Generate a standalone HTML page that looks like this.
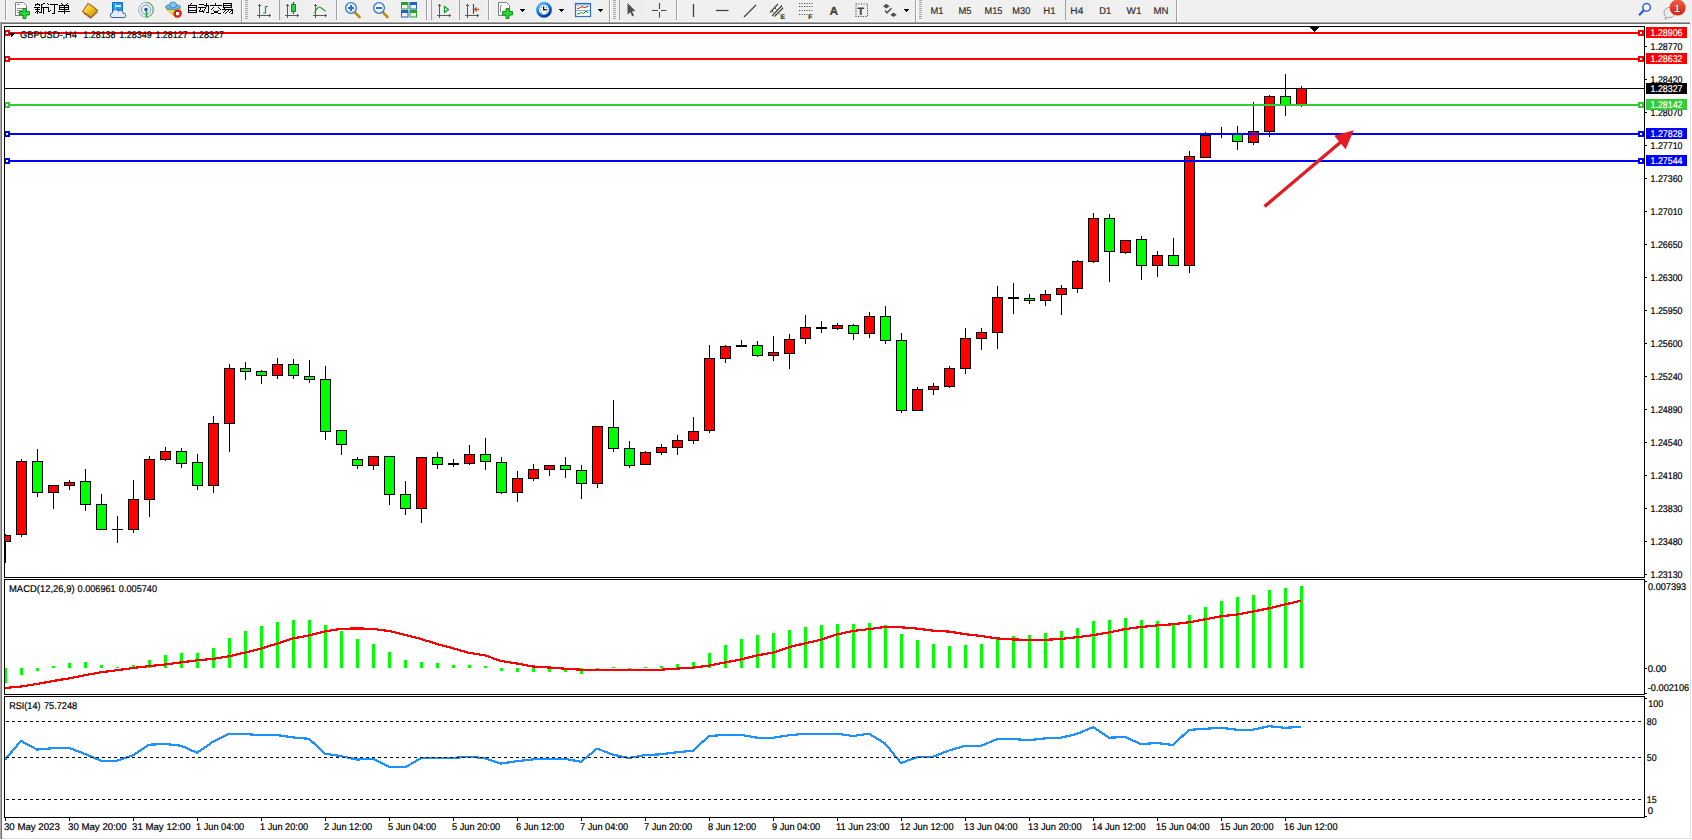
<!DOCTYPE html><html><head><meta charset="utf-8"><title>MT4 GBPUSD H4</title><style>html,body{margin:0;padding:0;background:#fff;width:1692px;height:840px;overflow:hidden;}text{font-family:"Liberation Sans",sans-serif;stroke:currentColor;stroke-width:0.2px;text-rendering:geometricPrecision;}</style></head><body><svg width="1692" height="840" viewBox="0 0 1692 840" shape-rendering="crispEdges" style="display:block"><rect x="0" y="0" width="1692" height="840" fill="#ffffff"/><defs><pattern id="chk" width="2" height="2" patternUnits="userSpaceOnUse"><rect width="2" height="2" fill="#f6f6f6"/><rect width="1" height="1" fill="#e6e6e6"/><rect x="1" y="1" width="1" height="1" fill="#e6e6e6"/></pattern><radialGradient id="gBlueFace" cx="0.5" cy="0.4" r="0.6"><stop offset="0" stop-color="#ffffff"/><stop offset="1" stop-color="#cfe4f7"/></radialGradient><linearGradient id="gGold" x1="0" y1="0" x2="1" y2="1"><stop offset="0" stop-color="#fff0a0"/><stop offset="0.5" stop-color="#f0c020"/><stop offset="1" stop-color="#c08010"/></linearGradient><linearGradient id="gClock" x1="0.2" y1="0" x2="0.8" y2="1"><stop offset="0" stop-color="#5ab8ff"/><stop offset="0.5" stop-color="#1070e0"/><stop offset="1" stop-color="#003c98"/></linearGradient><linearGradient id="gRed" x1="0" y1="0" x2="0" y2="1"><stop offset="0" stop-color="#ef6040"/><stop offset="1" stop-color="#d81e10"/></linearGradient></defs><rect x="0" y="0" width="1692" height="21" fill="#f0f0f0"/><rect x="0" y="21" width="1692" height="1" fill="#f8f8f8"/><g shape-rendering="geometricPrecision"><rect x="5" y="0" width="1" height="20" fill="#a0a0a0"/><rect x="6" y="0" width="1" height="20" fill="#ffffff"/><path d="M15.5 2.5 h8 l3 3 v10 h-11 z" fill="#fff" stroke="#808080" stroke-width="1"/><path d="M17 4.5 h3 M17 8.5 h6 M17 10.5 h5 M17 12.5 h3" stroke="#909090" stroke-width="1"/><path d="M23 8.5 h3 v3 h3.5 v3.5 h-3.5 v3.5 h-3 v-3.5 h-3.5 v-3.5 h3.5 z" fill="#22dd33" stroke="#129018" stroke-width="1"/><g fill="#000" shape-rendering="crispEdges"><rect x="37" y="3" width="1" height="1"/><rect x="35" y="4" width="5" height="1"/><rect x="35" y="5" width="1" height="1"/><rect x="39" y="5" width="1" height="1"/><rect x="34" y="7" width="6" height="1"/><rect x="35" y="9" width="5" height="1"/><rect x="37" y="7" width="1" height="7"/><rect x="36" y="11" width="1" height="1"/><rect x="35" y="12" width="1" height="1"/><rect x="38" y="11" width="1" height="1"/><rect x="39" y="12" width="1" height="1"/><rect x="43" y="3" width="2" height="1"/><rect x="42" y="4" width="1" height="1"/><rect x="41" y="4" width="1" height="9"/><rect x="40" y="12" width="1" height="1"/><rect x="41" y="7" width="5" height="1"/><rect x="43" y="7" width="1" height="7"/><rect x="47" y="3" width="1" height="1"/><rect x="48" y="4" width="1" height="1"/><rect x="46" y="7" width="3" height="1"/><rect x="48" y="7" width="1" height="5"/><rect x="49" y="11" width="1" height="1"/><rect x="50" y="10" width="1" height="1"/><rect x="50" y="4" width="8" height="1"/><rect x="54" y="4" width="1" height="10"/><rect x="52" y="13" width="2" height="1"/><rect x="61" y="3" width="1" height="1"/><rect x="62" y="4" width="1" height="1"/><rect x="67" y="3" width="1" height="1"/><rect x="66" y="4" width="1" height="1"/><rect x="59" y="5" width="10" height="1"/><rect x="59" y="7" width="10" height="1"/><rect x="59" y="9" width="10" height="1"/><rect x="59" y="5" width="1" height="5"/><rect x="68" y="5" width="1" height="5"/><rect x="64" y="5" width="1" height="9"/><rect x="58" y="11" width="12" height="1"/></g><path d="M88 3.5 Q93 6 97.5 10.5 L91 17.5 Q87 14 82.5 11.5 Z" fill="url(#gGold)" stroke="#a86a18" stroke-width="1.1"/><path d="M83.5 13 L90.5 18.2 L97.8 12" stroke="#8a5010" stroke-width="1" fill="none"/><path d="M112.5 2.5 h10 v9.5 h-10 z" fill="#1a9af0" stroke="#1070c8" stroke-width="1"/><path d="M115.5 3 v8.5" stroke="#c8ecff" stroke-width="0.8"/><path d="M116 5 h5 v2 h-5z" fill="#d8efff"/><path d="M112 17.5 a2.3 2.3 0 0 1 0.3 -4.5 a3.2 3.2 0 0 1 6 -1.8 a2.8 2.8 0 0 1 4.8 2.2 a2 2 0 0 1 1.2 4.1 z" fill="#e4ecf8" stroke="#40609a" stroke-width="1"/><circle cx="146" cy="9.7" r="7.3" fill="none" stroke="#8fb0e0" stroke-width="1"/><circle cx="146" cy="9.7" r="4.6" fill="none" stroke="#6f98d8" stroke-width="1"/><path d="M146 2.4 A7.3 7.3 0 0 1 146 17" fill="none" stroke="#70b870" stroke-width="1.2"/><circle cx="146" cy="9.5" r="1.8" fill="#2050c0"/><path d="M146.5 10 V17.5" stroke="#20a020" stroke-width="1.5"/><path d="M166 9 L176 17.5 L181 12 L180 8 Z" fill="#f0dc50" stroke="#c0a030" stroke-width="0.8"/><ellipse cx="173" cy="7" rx="7.5" ry="2.6" fill="#70b8e0" stroke="#3080b0" stroke-width="0.8"/><ellipse cx="173" cy="5" rx="3.5" ry="3" fill="#80c8f0" stroke="#3080b0" stroke-width="0.8"/><circle cx="177.6" cy="13.6" r="4.2" fill="#d82010"/><rect x="176" y="12" width="3.2" height="3.2" fill="#fff"/><g fill="#000" shape-rendering="crispEdges"><rect x="191" y="3" width="1" height="1"/><rect x="190" y="4" width="1" height="1"/><rect x="188" y="5" width="9" height="1"/><rect x="188" y="7" width="9" height="1"/><rect x="188" y="10" width="9" height="1"/><rect x="188" y="12" width="9" height="1"/><rect x="188" y="5" width="1" height="8"/><rect x="196" y="5" width="1" height="8"/><rect x="199" y="4" width="5" height="1"/><rect x="198" y="7" width="7" height="1"/><rect x="200" y="8" width="1" height="1"/><rect x="200" y="9" width="1" height="1"/><rect x="199" y="10" width="1" height="1"/><rect x="199" y="11" width="4" height="1"/><rect x="202" y="10" width="1" height="1"/><rect x="203" y="11" width="1" height="1"/><rect x="203" y="12" width="1" height="1"/><rect x="204" y="5" width="5" height="1"/><rect x="206" y="3" width="1" height="4"/><rect x="205" y="7" width="1" height="1"/><rect x="205" y="8" width="1" height="1"/><rect x="204" y="9" width="1" height="1"/><rect x="204" y="10" width="1" height="1"/><rect x="203" y="12" width="1" height="1"/><rect x="208" y="5" width="1" height="8"/><rect x="206" y="12" width="2" height="1"/><rect x="215" y="3" width="1" height="1"/><rect x="215" y="4" width="1" height="1"/><rect x="210" y="5" width="12" height="1"/><rect x="213" y="7" width="1" height="1"/><rect x="212" y="8" width="1" height="1"/><rect x="211" y="9" width="1" height="1"/><rect x="218" y="7" width="1" height="1"/><rect x="219" y="8" width="1" height="1"/><rect x="220" y="9" width="1" height="1"/><rect x="213" y="10" width="1" height="1"/><rect x="214" y="11" width="2" height="1"/><rect x="216" y="12" width="2" height="1"/><rect x="218" y="13" width="3" height="1"/><rect x="218" y="10" width="1" height="1"/><rect x="216" y="11" width="2" height="1"/><rect x="214" y="12" width="2" height="1"/><rect x="211" y="13" width="3" height="1"/><rect x="223" y="3" width="9" height="1"/><rect x="223" y="5" width="9" height="1"/><rect x="223" y="7" width="9" height="1"/><rect x="223" y="3" width="1" height="5"/><rect x="231" y="3" width="1" height="5"/><rect x="224" y="8" width="1" height="1"/><rect x="222" y="9" width="11" height="1"/><rect x="232" y="9" width="1" height="4"/><rect x="231" y="13" width="2" height="1"/><rect x="225" y="10" width="1" height="1"/><rect x="224" y="11" width="1" height="1"/><rect x="223" y="12" width="1" height="1"/><rect x="228" y="10" width="1" height="1"/><rect x="227" y="11" width="1" height="1"/><rect x="226" y="12" width="1" height="1"/><rect x="225" y="13" width="1" height="1"/><rect x="231" y="10" width="1" height="1"/><rect x="230" y="11" width="1" height="1"/><rect x="229" y="12" width="1" height="1"/></g></g><rect x="241" y="0" width="1" height="22" fill="#a0a0a0"/><rect x="242" y="0" width="1" height="22" fill="#ffffff"/><rect x="245" y="0" width="3" height="1" fill="#a8a8a8"/><rect x="245" y="2" width="3" height="1" fill="#a8a8a8"/><rect x="245" y="4" width="3" height="1" fill="#a8a8a8"/><rect x="245" y="6" width="3" height="1" fill="#a8a8a8"/><rect x="245" y="8" width="3" height="1" fill="#a8a8a8"/><rect x="245" y="10" width="3" height="1" fill="#a8a8a8"/><rect x="245" y="12" width="3" height="1" fill="#a8a8a8"/><rect x="245" y="14" width="3" height="1" fill="#a8a8a8"/><rect x="245" y="16" width="3" height="1" fill="#a8a8a8"/><rect x="245" y="18" width="3" height="1" fill="#a8a8a8"/><g shape-rendering="geometricPrecision"><g fill="#5a5a5a" shape-rendering="crispEdges"><rect x="259" y="4" width="1" height="14"/><rect x="257" y="15" width="14" height="1"/><rect x="258" y="5" width="3" height="1"/><rect x="269" y="14" width="1" height="3"/></g><path d="M265.5 6 V13.5 M263 13 h2.5 M265.5 6.5 h2.5" stroke="#10a030" stroke-width="1.2" fill="none"/></g><rect x="279" y="0" width="1" height="20" fill="#a0a0a0"/><rect x="280" y="0" width="24" height="20" fill="url(#chk)"/><g shape-rendering="geometricPrecision"><g fill="#5a5a5a" shape-rendering="crispEdges"><rect x="287" y="4" width="1" height="14"/><rect x="285" y="15" width="14" height="1"/><rect x="286" y="5" width="3" height="1"/><rect x="297" y="14" width="1" height="3"/></g><path d="M293.5 2 V14" stroke="#107020" stroke-width="1.2"/><rect x="291.5" y="4.5" width="4" height="7" fill="#30d040" stroke="#108020" stroke-width="0.9"/><g fill="#5a5a5a" shape-rendering="crispEdges"><rect x="315" y="4" width="1" height="14"/><rect x="313" y="15" width="14" height="1"/><rect x="314" y="5" width="3" height="1"/><rect x="325" y="14" width="1" height="3"/></g><path d="M314.5 12.8 Q318 6 320 7.2 T325.6 11.2" stroke="#20a030" stroke-width="1.2" fill="none"/></g><rect x="336" y="0" width="1" height="20" fill="#a0a0a0"/><rect x="337" y="0" width="1" height="20" fill="#ffffff"/><g shape-rendering="geometricPrecision"><path d="M354.5 12 L359.5 17" stroke="#b89020" stroke-width="2.6" stroke-linecap="round"/><circle cx="351" cy="8" r="5.4" fill="url(#gBlueFace)" stroke="#3a78c8" stroke-width="1.3"/><path d="M348 8 h6 M351 5 v6" stroke="#3a70b8" stroke-width="2"/><path d="M382.5 12 L387.5 17" stroke="#b89020" stroke-width="2.6" stroke-linecap="round"/><circle cx="379" cy="8" r="5.4" fill="url(#gBlueFace)" stroke="#3a78c8" stroke-width="1.3"/><path d="M376 8 h6" stroke="#3a70b8" stroke-width="2"/><rect x="401" y="2" width="7.5" height="7.5" fill="#2aa02a"/><rect x="402" y="5" width="5.5" height="3.5" fill="#e8f4e8"/><rect x="409.5" y="2" width="7.5" height="7.5" fill="#1f5fcf"/><rect x="410.5" y="5" width="5.5" height="3.5" fill="#e8f4e8"/><rect x="401" y="10" width="7.5" height="7.5" fill="#1f5fcf"/><rect x="402" y="13" width="5.5" height="3.5" fill="#e8f4e8"/><rect x="409.5" y="10" width="7.5" height="7.5" fill="#2aa02a"/><rect x="410.5" y="13" width="5.5" height="3.5" fill="#e8f4e8"/></g><rect x="426" y="0" width="1" height="20" fill="#a0a0a0"/><rect x="427" y="0" width="1" height="20" fill="#ffffff"/><rect x="431" y="0" width="1" height="20" fill="#a0a0a0"/><rect x="432" y="0" width="1" height="20" fill="#ffffff"/><rect x="432" y="0" width="24" height="20" fill="url(#chk)"/><g shape-rendering="geometricPrecision"><g fill="#5a5a5a" shape-rendering="crispEdges"><rect x="439" y="4" width="1" height="14"/><rect x="437" y="15" width="14" height="1"/><rect x="438" y="5" width="3" height="1"/><rect x="449" y="14" width="1" height="3"/></g><path d="M444.5 6.5 L448.5 9.5 L444.5 12.5 Z" fill="none" stroke="#10a030" stroke-width="1.2"/></g><rect x="459" y="0" width="1" height="20" fill="#a0a0a0"/><rect x="460" y="0" width="1" height="20" fill="#ffffff"/><rect x="460" y="0" width="24" height="20" fill="url(#chk)"/><g shape-rendering="geometricPrecision"><g fill="#5a5a5a" shape-rendering="crispEdges"><rect x="467" y="4" width="1" height="14"/><rect x="465" y="15" width="14" height="1"/><rect x="466" y="5" width="3" height="1"/><rect x="477" y="14" width="1" height="3"/></g><path d="M473.5 4 V14" stroke="#1060a0" stroke-width="1.2"/><path d="M479 9.5 h-4 M476.5 7.5 l-2 2 l2 2" stroke="#e05010" stroke-width="1.3" fill="none"/></g><rect x="488" y="0" width="1" height="20" fill="#a0a0a0"/><rect x="489" y="0" width="1" height="20" fill="#ffffff"/><g shape-rendering="geometricPrecision"><path d="M498.5 2.5 h8 l3 3 v10 h-11 z" fill="#fff" stroke="#808080" stroke-width="1"/><path d="M502 5 q-1.5 0 -1.5 3 v4" stroke="#606060" stroke-width="0.8" fill="none"/><path d="M506 8.5 h3 v3 h3.5 v3.5 h-3.5 v3.5 h-3 v-3.5 h-3.5 v-3.5 h3.5 z" fill="#22dd33" stroke="#129018" stroke-width="1"/></g><polygon points="520,9 525,9 522.5,12" fill="#000"/><g shape-rendering="geometricPrecision"><circle cx="544" cy="9.8" r="6.5" fill="#f4f4f4" stroke="url(#gClock)" stroke-width="2.9"/><g fill="#707070"><rect x="540" y="9.5" width="0.9" height="0.9"/><rect x="547.2" y="9.5" width="0.9" height="0.9"/><rect x="541" y="12.3" width="0.9" height="0.9"/><rect x="546" y="12.3" width="0.9" height="0.9"/><rect x="541" y="7" width="0.9" height="0.9"/><rect x="546" y="7" width="0.9" height="0.9"/></g><path d="M543.6 6.2 V9.9 L546.9 9.7" stroke="#1a1a1a" stroke-width="1.3" fill="none"/></g><polygon points="559,9 564,9 561.5,12" fill="#000"/><g shape-rendering="geometricPrecision"><rect x="575.5" y="3.5" width="15" height="13" fill="#fff" stroke="#2f6fc0" stroke-width="1.2"/><rect x="576" y="4" width="14" height="1.5" fill="#8fb8e8"/><path d="M576 10.5 h14" stroke="#6090c8" stroke-width="0.8"/><path d="M577 8.5 l2.5 -0.5 l2.5 -1.5 l2 1 l2.5 -0.5 l2 -1" stroke="#b02010" stroke-width="1" fill="none"/><path d="M577 14 l2.5 -0.5 l2 -1 l2 1 l2.5 -2.5 l2 2" stroke="#10a020" stroke-width="1" fill="none"/></g><polygon points="598,9 603,9 600.5,12" fill="#000"/><rect x="609" y="0" width="1" height="22" fill="#a0a0a0"/><rect x="610" y="0" width="1" height="22" fill="#ffffff"/><rect x="613" y="0" width="3" height="1" fill="#a8a8a8"/><rect x="613" y="2" width="3" height="1" fill="#a8a8a8"/><rect x="613" y="4" width="3" height="1" fill="#a8a8a8"/><rect x="613" y="6" width="3" height="1" fill="#a8a8a8"/><rect x="613" y="8" width="3" height="1" fill="#a8a8a8"/><rect x="613" y="10" width="3" height="1" fill="#a8a8a8"/><rect x="613" y="12" width="3" height="1" fill="#a8a8a8"/><rect x="613" y="14" width="3" height="1" fill="#a8a8a8"/><rect x="613" y="16" width="3" height="1" fill="#a8a8a8"/><rect x="613" y="18" width="3" height="1" fill="#a8a8a8"/><rect x="619" y="0" width="1" height="20" fill="#a0a0a0"/><rect x="620" y="0" width="24" height="20" fill="url(#chk)"/><g shape-rendering="geometricPrecision"><path d="M627.5 3 L635.5 11 L632 11.2 L634 15.5 L632.3 16.5 L630.3 12.3 L627.5 14.5 Z" fill="#505050"/><path d="M652 10.5 h6 M661 10.5 h5.5 M659.5 3 v6 M659.5 12 v5.5" stroke="#484848" stroke-width="1.1"/></g><rect x="676" y="0" width="1" height="20" fill="#a0a0a0"/><rect x="677" y="0" width="1" height="20" fill="#ffffff"/><g shape-rendering="geometricPrecision" stroke="#404040" fill="none"><path d="M693.5 4 V17" stroke-width="1.3"/><path d="M716 10.5 H728.5" stroke-width="1.3"/><path d="M744 17 L756 5" stroke-width="1.2"/><path d="M770 12.5 L778 4 M772 16 L782 5.5 M774.5 16.5 L783 8" stroke-width="1.1"/><path d="M772 11 l1.5 1.5 M775 8 l1.5 1.5 M778 12 l1.5 1.5 M781 6 l1.5 1.5" stroke-width="1"/></g><text x="780.5" y="18.8" font-family='"Liberation Sans", sans-serif' font-size="6.5" font-weight="bold" fill="#404040">E</text><g stroke="#505050" stroke-width="1.2" stroke-dasharray="1.2,1.3" fill="none" shape-rendering="geometricPrecision"><path d="M799 3.5 H812.5"/><path d="M799 6.5 H812.5"/><path d="M799 10.5 H812.5"/><path d="M799 14.5 H807.5"/></g><text x="808.3" y="18.8" font-family='"Liberation Sans", sans-serif' font-size="6.5" font-weight="bold" fill="#404040">F</text><text x="829.5" y="15" font-family='"Liberation Sans", sans-serif' font-size="12" font-weight="bold" fill="#505050">A</text><rect x="856" y="4" width="11.5" height="12.5" fill="none" stroke="#505050" stroke-width="1.1" stroke-dasharray="1.2,1.3" shape-rendering="geometricPrecision"/><text x="857.6" y="15" font-family='"Liberation Sans", sans-serif' font-size="10.5" font-weight="bold" fill="#505050">T</text><g shape-rendering="geometricPrecision"><polygon points="886.3,3.7 889.7,6.2 886.3,8.5 883,6.2" fill="#505050"/><path d="M885 10.5 L887 12.8 L891.5 8.3" stroke="#505050" stroke-width="1.5" fill="none"/><polygon points="893.5,12.4 896.8,14.7 893.5,17 890.3,14.7" fill="#505050"/></g><polygon points="904,9 909,9 906.5,12" fill="#000"/><rect x="915" y="0" width="1" height="22" fill="#a0a0a0"/><rect x="916" y="0" width="1" height="22" fill="#ffffff"/><rect x="919" y="0" width="3" height="1" fill="#a8a8a8"/><rect x="919" y="2" width="3" height="1" fill="#a8a8a8"/><rect x="919" y="4" width="3" height="1" fill="#a8a8a8"/><rect x="919" y="6" width="3" height="1" fill="#a8a8a8"/><rect x="919" y="8" width="3" height="1" fill="#a8a8a8"/><rect x="919" y="10" width="3" height="1" fill="#a8a8a8"/><rect x="919" y="12" width="3" height="1" fill="#a8a8a8"/><rect x="919" y="14" width="3" height="1" fill="#a8a8a8"/><rect x="919" y="16" width="3" height="1" fill="#a8a8a8"/><rect x="919" y="18" width="3" height="1" fill="#a8a8a8"/><rect x="1065" y="0" width="1" height="20" fill="#a0a0a0"/><rect x="1066" y="0" width="24" height="20" fill="url(#chk)"/><text x="930.5" y="14" font-family='"Liberation Sans", sans-serif' font-size="9.8" fill="#303030" color="#303030" textLength="13" lengthAdjust="spacingAndGlyphs">M1</text><text x="958.5" y="14" font-family='"Liberation Sans", sans-serif' font-size="9.8" fill="#303030" color="#303030" textLength="13" lengthAdjust="spacingAndGlyphs">M5</text><text x="984.5" y="14" font-family='"Liberation Sans", sans-serif' font-size="9.8" fill="#303030" color="#303030" textLength="18" lengthAdjust="spacingAndGlyphs">M15</text><text x="1012.3" y="14" font-family='"Liberation Sans", sans-serif' font-size="9.8" fill="#303030" color="#303030" textLength="18" lengthAdjust="spacingAndGlyphs">M30</text><text x="1043.3" y="14" font-family='"Liberation Sans", sans-serif' font-size="9.8" fill="#303030" color="#303030" textLength="12.3" lengthAdjust="spacingAndGlyphs">H1</text><text x="1070.3" y="14" font-family='"Liberation Sans", sans-serif' font-size="9.8" fill="#303030" color="#303030" textLength="13" lengthAdjust="spacingAndGlyphs">H4</text><text x="1099.3" y="14" font-family='"Liberation Sans", sans-serif' font-size="9.8" fill="#303030" color="#303030" textLength="12" lengthAdjust="spacingAndGlyphs">D1</text><text x="1126.5" y="14" font-family='"Liberation Sans", sans-serif' font-size="9.8" fill="#303030" color="#303030" textLength="15" lengthAdjust="spacingAndGlyphs">W1</text><text x="1153.5" y="14" font-family='"Liberation Sans", sans-serif' font-size="9.8" fill="#303030" color="#303030" textLength="15" lengthAdjust="spacingAndGlyphs">MN</text><rect x="1176" y="0" width="1" height="22" fill="#a0a0a0"/><rect x="1177" y="0" width="1" height="22" fill="#ffffff"/><g shape-rendering="geometricPrecision"><circle cx="1646.6" cy="7.4" r="3.8" fill="#fafaff" stroke="#2a60d0" stroke-width="1.5"/><path d="M1643.5 10.5 L1639.8 14.5" stroke="#2a60d0" stroke-width="2.4" stroke-linecap="round"/><path d="M1664 12.5 a5.5 5 0 1 1 4 4.8 l-3 2 l0.8 -2.6 a5.5 5 0 0 1 -1.8 -4.2z" fill="#ececf4" stroke="#a0a0a0" stroke-width="1"/><circle cx="1677.6" cy="7.6" r="8" fill="url(#gRed)"/><text x="1674" y="12" font-family="'Liberation Serif', serif" font-size="11" font-weight="bold" fill="#fff">1</text></g><rect x="0" y="22" width="1690" height="1" fill="#a0a0a0"/><rect x="0" y="23" width="1690" height="1" fill="#6e6e6e"/><rect x="1690" y="22" width="2" height="2" fill="#f0f0f0"/><rect x="0" y="22" width="1" height="817" fill="#a9a9a9"/><rect x="1" y="22" width="1" height="817" fill="#6e6e6e"/><rect x="2" y="838" width="1690" height="1" fill="#e3e3e3"/><rect x="1690" y="24" width="1" height="815" fill="#e3e3e3"/><defs><clipPath id="cm"><rect x="5" y="27" width="1639" height="550"/></clipPath><clipPath id="cd"><rect x="5" y="580" width="1639" height="114"/></clipPath><clipPath id="cr"><rect x="5" y="697" width="1639" height="120"/></clipPath></defs><g clip-path="url(#cm)"><rect x="5" y="534" width="1" height="29" fill="#000"/><rect x="0" y="535" width="11" height="7" fill="#000"/><rect x="1" y="536" width="9" height="5" fill="#ff0000"/><rect x="21" y="459" width="1" height="78" fill="#000"/><rect x="16" y="461" width="11" height="74" fill="#000"/><rect x="17" y="462" width="9" height="72" fill="#ff0000"/><rect x="37" y="449" width="1" height="48" fill="#000"/><rect x="32" y="461" width="11" height="32" fill="#000"/><rect x="33" y="462" width="9" height="30" fill="#00ff00"/><rect x="53" y="485" width="1" height="24" fill="#000"/><rect x="48" y="485" width="11" height="8" fill="#000"/><rect x="49" y="486" width="9" height="6" fill="#ff0000"/><rect x="69" y="480" width="1" height="10" fill="#000"/><rect x="64" y="482" width="11" height="4" fill="#000"/><rect x="65" y="483" width="9" height="2" fill="#ff0000"/><rect x="85" y="469" width="1" height="42" fill="#000"/><rect x="80" y="481" width="11" height="24" fill="#000"/><rect x="81" y="482" width="9" height="22" fill="#00ff00"/><rect x="101" y="494" width="1" height="36" fill="#000"/><rect x="96" y="504" width="11" height="26" fill="#000"/><rect x="97" y="505" width="9" height="24" fill="#00ff00"/><rect x="117" y="516" width="1" height="27" fill="#000"/><rect x="112" y="529" width="11" height="1" fill="#000"/><rect x="133" y="480" width="1" height="53" fill="#000"/><rect x="128" y="499" width="11" height="31" fill="#000"/><rect x="129" y="500" width="9" height="29" fill="#ff0000"/><rect x="149" y="456" width="1" height="61" fill="#000"/><rect x="144" y="459" width="11" height="41" fill="#000"/><rect x="145" y="460" width="9" height="39" fill="#ff0000"/><rect x="165" y="447" width="1" height="14" fill="#000"/><rect x="160" y="451" width="11" height="9" fill="#000"/><rect x="161" y="452" width="9" height="7" fill="#ff0000"/><rect x="181" y="448" width="1" height="20" fill="#000"/><rect x="176" y="451" width="11" height="13" fill="#000"/><rect x="177" y="452" width="9" height="11" fill="#00ff00"/><rect x="197" y="454" width="1" height="36" fill="#000"/><rect x="192" y="462" width="11" height="24" fill="#000"/><rect x="193" y="463" width="9" height="22" fill="#00ff00"/><rect x="213" y="416" width="1" height="77" fill="#000"/><rect x="208" y="423" width="11" height="63" fill="#000"/><rect x="209" y="424" width="9" height="61" fill="#ff0000"/><rect x="229" y="364" width="1" height="88" fill="#000"/><rect x="224" y="368" width="11" height="56" fill="#000"/><rect x="225" y="369" width="9" height="54" fill="#ff0000"/><rect x="245" y="362" width="1" height="18" fill="#000"/><rect x="240" y="368" width="11" height="4" fill="#000"/><rect x="241" y="369" width="9" height="2" fill="#00ff00"/><rect x="261" y="370" width="1" height="14" fill="#000"/><rect x="256" y="371" width="11" height="5" fill="#000"/><rect x="257" y="372" width="9" height="3" fill="#00ff00"/><rect x="277" y="358" width="1" height="21" fill="#000"/><rect x="272" y="364" width="11" height="12" fill="#000"/><rect x="273" y="365" width="9" height="10" fill="#ff0000"/><rect x="293" y="359" width="1" height="20" fill="#000"/><rect x="288" y="364" width="11" height="12" fill="#000"/><rect x="289" y="365" width="9" height="10" fill="#00ff00"/><rect x="309" y="360" width="1" height="23" fill="#000"/><rect x="304" y="376" width="11" height="4" fill="#000"/><rect x="305" y="377" width="9" height="2" fill="#00ff00"/><rect x="325" y="366" width="1" height="74" fill="#000"/><rect x="320" y="379" width="11" height="53" fill="#000"/><rect x="321" y="380" width="9" height="51" fill="#00ff00"/><rect x="341" y="430" width="1" height="25" fill="#000"/><rect x="336" y="430" width="11" height="15" fill="#000"/><rect x="337" y="431" width="9" height="13" fill="#00ff00"/><rect x="357" y="457" width="1" height="12" fill="#000"/><rect x="352" y="459" width="11" height="7" fill="#000"/><rect x="353" y="460" width="9" height="5" fill="#00ff00"/><rect x="373" y="456" width="1" height="14" fill="#000"/><rect x="368" y="456" width="11" height="10" fill="#000"/><rect x="369" y="457" width="9" height="8" fill="#ff0000"/><rect x="389" y="456" width="1" height="49" fill="#000"/><rect x="384" y="456" width="11" height="39" fill="#000"/><rect x="385" y="457" width="9" height="37" fill="#00ff00"/><rect x="405" y="481" width="1" height="34" fill="#000"/><rect x="400" y="494" width="11" height="15" fill="#000"/><rect x="401" y="495" width="9" height="13" fill="#00ff00"/><rect x="421" y="457" width="1" height="66" fill="#000"/><rect x="416" y="457" width="11" height="52" fill="#000"/><rect x="417" y="458" width="9" height="50" fill="#ff0000"/><rect x="437" y="452" width="1" height="17" fill="#000"/><rect x="432" y="457" width="11" height="8" fill="#000"/><rect x="433" y="458" width="9" height="6" fill="#00ff00"/><rect x="453" y="459" width="1" height="8" fill="#000"/><rect x="448" y="463" width="11" height="2" fill="#000"/><rect x="469" y="445" width="1" height="20" fill="#000"/><rect x="464" y="454" width="11" height="10" fill="#000"/><rect x="465" y="455" width="9" height="8" fill="#ff0000"/><rect x="485" y="438" width="1" height="32" fill="#000"/><rect x="480" y="454" width="11" height="8" fill="#000"/><rect x="481" y="455" width="9" height="6" fill="#00ff00"/><rect x="501" y="457" width="1" height="37" fill="#000"/><rect x="496" y="462" width="11" height="31" fill="#000"/><rect x="497" y="463" width="9" height="29" fill="#00ff00"/><rect x="517" y="471" width="1" height="31" fill="#000"/><rect x="512" y="478" width="11" height="15" fill="#000"/><rect x="513" y="479" width="9" height="13" fill="#ff0000"/><rect x="533" y="464" width="1" height="17" fill="#000"/><rect x="528" y="469" width="11" height="10" fill="#000"/><rect x="529" y="470" width="9" height="8" fill="#ff0000"/><rect x="549" y="465" width="1" height="11" fill="#000"/><rect x="544" y="465" width="11" height="5" fill="#000"/><rect x="545" y="466" width="9" height="3" fill="#ff0000"/><rect x="565" y="457" width="1" height="21" fill="#000"/><rect x="560" y="465" width="11" height="5" fill="#000"/><rect x="561" y="466" width="9" height="3" fill="#00ff00"/><rect x="581" y="465" width="1" height="34" fill="#000"/><rect x="576" y="470" width="11" height="14" fill="#000"/><rect x="577" y="471" width="9" height="12" fill="#00ff00"/><rect x="597" y="426" width="1" height="62" fill="#000"/><rect x="592" y="426" width="11" height="58" fill="#000"/><rect x="593" y="427" width="9" height="56" fill="#ff0000"/><rect x="613" y="400" width="1" height="52" fill="#000"/><rect x="608" y="427" width="11" height="22" fill="#000"/><rect x="609" y="428" width="9" height="20" fill="#00ff00"/><rect x="629" y="441" width="1" height="27" fill="#000"/><rect x="624" y="448" width="11" height="18" fill="#000"/><rect x="625" y="449" width="9" height="16" fill="#00ff00"/><rect x="645" y="451" width="1" height="13" fill="#000"/><rect x="640" y="452" width="11" height="13" fill="#000"/><rect x="641" y="453" width="9" height="11" fill="#ff0000"/><rect x="661" y="444" width="1" height="11" fill="#000"/><rect x="656" y="447" width="11" height="6" fill="#000"/><rect x="657" y="448" width="9" height="4" fill="#ff0000"/><rect x="677" y="435" width="1" height="20" fill="#000"/><rect x="672" y="440" width="11" height="8" fill="#000"/><rect x="673" y="441" width="9" height="6" fill="#ff0000"/><rect x="693" y="417" width="1" height="27" fill="#000"/><rect x="688" y="431" width="11" height="10" fill="#000"/><rect x="689" y="432" width="9" height="8" fill="#ff0000"/><rect x="709" y="345" width="1" height="88" fill="#000"/><rect x="704" y="358" width="11" height="73" fill="#000"/><rect x="705" y="359" width="9" height="71" fill="#ff0000"/><rect x="725" y="345" width="1" height="18" fill="#000"/><rect x="720" y="346" width="11" height="13" fill="#000"/><rect x="721" y="347" width="9" height="11" fill="#ff0000"/><rect x="741" y="340" width="1" height="7" fill="#000"/><rect x="736" y="345" width="11" height="2" fill="#000"/><rect x="757" y="341" width="1" height="16" fill="#000"/><rect x="752" y="345" width="11" height="11" fill="#000"/><rect x="753" y="346" width="9" height="9" fill="#00ff00"/><rect x="773" y="336" width="1" height="25" fill="#000"/><rect x="768" y="352" width="11" height="4" fill="#000"/><rect x="769" y="353" width="9" height="2" fill="#ff0000"/><rect x="789" y="334" width="1" height="35" fill="#000"/><rect x="784" y="339" width="11" height="15" fill="#000"/><rect x="785" y="340" width="9" height="13" fill="#ff0000"/><rect x="805" y="315" width="1" height="29" fill="#000"/><rect x="800" y="327" width="11" height="12" fill="#000"/><rect x="801" y="328" width="9" height="10" fill="#ff0000"/><rect x="821" y="321" width="1" height="12" fill="#000"/><rect x="816" y="327" width="11" height="2" fill="#000"/><rect x="837" y="323" width="1" height="7" fill="#000"/><rect x="832" y="325" width="11" height="4" fill="#000"/><rect x="833" y="326" width="9" height="2" fill="#ff0000"/><rect x="853" y="324" width="1" height="16" fill="#000"/><rect x="848" y="325" width="11" height="9" fill="#000"/><rect x="849" y="326" width="9" height="7" fill="#00ff00"/><rect x="869" y="312" width="1" height="26" fill="#000"/><rect x="864" y="316" width="11" height="18" fill="#000"/><rect x="865" y="317" width="9" height="16" fill="#ff0000"/><rect x="885" y="306" width="1" height="38" fill="#000"/><rect x="880" y="316" width="11" height="25" fill="#000"/><rect x="881" y="317" width="9" height="23" fill="#00ff00"/><rect x="901" y="333" width="1" height="80" fill="#000"/><rect x="896" y="340" width="11" height="71" fill="#000"/><rect x="897" y="341" width="9" height="69" fill="#00ff00"/><rect x="917" y="387" width="1" height="23" fill="#000"/><rect x="912" y="389" width="11" height="22" fill="#000"/><rect x="913" y="390" width="9" height="20" fill="#ff0000"/><rect x="933" y="383" width="1" height="12" fill="#000"/><rect x="928" y="386" width="11" height="4" fill="#000"/><rect x="929" y="387" width="9" height="2" fill="#ff0000"/><rect x="949" y="366" width="1" height="22" fill="#000"/><rect x="944" y="368" width="11" height="19" fill="#000"/><rect x="945" y="369" width="9" height="17" fill="#ff0000"/><rect x="965" y="328" width="1" height="46" fill="#000"/><rect x="960" y="338" width="11" height="31" fill="#000"/><rect x="961" y="339" width="9" height="29" fill="#ff0000"/><rect x="981" y="328" width="1" height="22" fill="#000"/><rect x="976" y="332" width="11" height="7" fill="#000"/><rect x="977" y="333" width="9" height="5" fill="#ff0000"/><rect x="997" y="286" width="1" height="63" fill="#000"/><rect x="992" y="297" width="11" height="36" fill="#000"/><rect x="993" y="298" width="9" height="34" fill="#ff0000"/><rect x="1013" y="283" width="1" height="31" fill="#000"/><rect x="1008" y="297" width="11" height="2" fill="#000"/><rect x="1029" y="294" width="1" height="10" fill="#000"/><rect x="1024" y="298" width="11" height="3" fill="#000"/><rect x="1025" y="299" width="9" height="1" fill="#00ff00"/><rect x="1045" y="290" width="1" height="16" fill="#000"/><rect x="1040" y="294" width="11" height="7" fill="#000"/><rect x="1041" y="295" width="9" height="5" fill="#ff0000"/><rect x="1061" y="285" width="1" height="30" fill="#000"/><rect x="1056" y="288" width="11" height="7" fill="#000"/><rect x="1057" y="289" width="9" height="5" fill="#ff0000"/><rect x="1077" y="260" width="1" height="33" fill="#000"/><rect x="1072" y="261" width="11" height="28" fill="#000"/><rect x="1073" y="262" width="9" height="26" fill="#ff0000"/><rect x="1093" y="213" width="1" height="50" fill="#000"/><rect x="1088" y="218" width="11" height="44" fill="#000"/><rect x="1089" y="219" width="9" height="42" fill="#ff0000"/><rect x="1109" y="214" width="1" height="68" fill="#000"/><rect x="1104" y="218" width="11" height="34" fill="#000"/><rect x="1105" y="219" width="9" height="32" fill="#00ff00"/><rect x="1125" y="240" width="1" height="14" fill="#000"/><rect x="1120" y="240" width="11" height="13" fill="#000"/><rect x="1121" y="241" width="9" height="11" fill="#ff0000"/><rect x="1141" y="236" width="1" height="44" fill="#000"/><rect x="1136" y="239" width="11" height="27" fill="#000"/><rect x="1137" y="240" width="9" height="25" fill="#00ff00"/><rect x="1157" y="251" width="1" height="26" fill="#000"/><rect x="1152" y="255" width="11" height="11" fill="#000"/><rect x="1153" y="256" width="9" height="9" fill="#ff0000"/><rect x="1173" y="238" width="1" height="28" fill="#000"/><rect x="1168" y="255" width="11" height="11" fill="#000"/><rect x="1169" y="256" width="9" height="9" fill="#00ff00"/><rect x="1189" y="151" width="1" height="122" fill="#000"/><rect x="1184" y="156" width="11" height="110" fill="#000"/><rect x="1185" y="157" width="9" height="108" fill="#ff0000"/><rect x="1205" y="132" width="1" height="26" fill="#000"/><rect x="1200" y="135" width="11" height="23" fill="#000"/><rect x="1201" y="136" width="9" height="21" fill="#ff0000"/><rect x="1221" y="127" width="1" height="11" fill="#000"/><rect x="1216" y="133" width="11" height="1" fill="#000"/><rect x="1237" y="126" width="1" height="24" fill="#000"/><rect x="1232" y="134" width="11" height="8" fill="#000"/><rect x="1233" y="135" width="9" height="6" fill="#00ff00"/><rect x="1253" y="102" width="1" height="43" fill="#000"/><rect x="1248" y="131" width="11" height="12" fill="#000"/><rect x="1249" y="132" width="9" height="10" fill="#ff0000"/><rect x="1269" y="95" width="1" height="42" fill="#000"/><rect x="1264" y="96" width="11" height="36" fill="#000"/><rect x="1265" y="97" width="9" height="34" fill="#ff0000"/><rect x="1285" y="74" width="1" height="42" fill="#000"/><rect x="1280" y="96" width="11" height="10" fill="#000"/><rect x="1281" y="97" width="9" height="8" fill="#00ff00"/><rect x="1301" y="86" width="1" height="21" fill="#000"/><rect x="1296" y="88" width="11" height="18" fill="#000"/><rect x="1297" y="89" width="9" height="16" fill="#ff0000"/></g><rect x="5" y="88" width="1639" height="1" fill="#000"/><rect x="5" y="32" width="1639" height="2" fill="#ff0000"/><rect x="4" y="30" width="6" height="6" fill="#ff0000"/><rect x="6" y="32" width="2" height="2" fill="#fff"/><rect x="1638" y="30" width="6" height="6" fill="#ff0000"/><rect x="1640" y="32" width="2" height="2" fill="#fff"/><rect x="5" y="58" width="1639" height="2" fill="#ff0000"/><rect x="4" y="56" width="6" height="6" fill="#ff0000"/><rect x="6" y="58" width="2" height="2" fill="#fff"/><rect x="1638" y="56" width="6" height="6" fill="#ff0000"/><rect x="1640" y="58" width="2" height="2" fill="#fff"/><rect x="5" y="104" width="1639" height="2" fill="#32cd32"/><rect x="4" y="102" width="6" height="6" fill="#32cd32"/><rect x="6" y="104" width="2" height="2" fill="#fff"/><rect x="1638" y="102" width="6" height="6" fill="#32cd32"/><rect x="1640" y="104" width="2" height="2" fill="#fff"/><rect x="5" y="133" width="1639" height="2" fill="#0000ff"/><rect x="4" y="131" width="6" height="6" fill="#0000ff"/><rect x="6" y="133" width="2" height="2" fill="#fff"/><rect x="1638" y="131" width="6" height="6" fill="#0000ff"/><rect x="1640" y="133" width="2" height="2" fill="#fff"/><rect x="5" y="160" width="1639" height="2" fill="#0000ff"/><rect x="4" y="158" width="6" height="6" fill="#0000ff"/><rect x="6" y="160" width="2" height="2" fill="#fff"/><rect x="1638" y="158" width="6" height="6" fill="#0000ff"/><rect x="1640" y="160" width="2" height="2" fill="#fff"/><polygon points="1309.5,27 1319.5,27 1314.5,32" fill="#000"/><g shape-rendering="geometricPrecision"><line x1="1264.5" y1="206.5" x2="1342" y2="141" stroke="#e31b23" stroke-width="3.4" stroke-linecap="butt"/><polygon points="1353.8,130.3 1334.3,135.8 1345.6,149.2" fill="#e31b23"/></g><polygon points="8.5,33 15,33 11.75,37" fill="#000"/><text x="20" y="38" font-family='"Liberation Sans", sans-serif' font-size="9.8" fill="#000" color="#000" textLength="57" lengthAdjust="spacingAndGlyphs">GBPUSD-,H4</text><text x="83.2" y="38" font-family='"Liberation Sans", sans-serif' font-size="9.8" fill="#000" color="#000" textLength="32.4" lengthAdjust="spacingAndGlyphs">1.28138</text><text x="119.3" y="38" font-family='"Liberation Sans", sans-serif' font-size="9.8" fill="#000" color="#000" textLength="32.4" lengthAdjust="spacingAndGlyphs">1.28349</text><text x="155.4" y="38" font-family='"Liberation Sans", sans-serif' font-size="9.8" fill="#000" color="#000" textLength="32.4" lengthAdjust="spacingAndGlyphs">1.28127</text><text x="191.6" y="38" font-family='"Liberation Sans", sans-serif' font-size="9.8" fill="#000" color="#000" textLength="32.4" lengthAdjust="spacingAndGlyphs">1.28327</text><rect x="4" y="26" width="1641" height="1" fill="#000"/><rect x="4" y="26" width="1" height="552" fill="#000"/><rect x="4" y="577" width="1641" height="1" fill="#000"/><rect x="1644" y="26" width="1" height="552" fill="#000"/><rect x="1645" y="46" width="2" height="1" fill="#000"/><rect x="1645" y="79" width="2" height="1" fill="#000"/><rect x="1645" y="112" width="2" height="1" fill="#000"/><rect x="1645" y="145" width="2" height="1" fill="#000"/><rect x="1645" y="178" width="2" height="1" fill="#000"/><rect x="1645" y="211" width="2" height="1" fill="#000"/><rect x="1645" y="244" width="2" height="1" fill="#000"/><rect x="1645" y="277" width="2" height="1" fill="#000"/><rect x="1645" y="310" width="2" height="1" fill="#000"/><rect x="1645" y="343" width="2" height="1" fill="#000"/><rect x="1645" y="376" width="2" height="1" fill="#000"/><rect x="1645" y="409" width="2" height="1" fill="#000"/><rect x="1645" y="442" width="2" height="1" fill="#000"/><rect x="1645" y="475" width="2" height="1" fill="#000"/><rect x="1645" y="508" width="2" height="1" fill="#000"/><rect x="1645" y="541" width="2" height="1" fill="#000"/><rect x="1645" y="574" width="2" height="1" fill="#000"/><text x="1650.5" y="50" font-family='"Liberation Sans", sans-serif' font-size="9.8" fill="#000" color="#000" textLength="32" lengthAdjust="spacingAndGlyphs">1.28770</text><text x="1650.5" y="83" font-family='"Liberation Sans", sans-serif' font-size="9.8" fill="#000" color="#000" textLength="32" lengthAdjust="spacingAndGlyphs">1.28420</text><text x="1650.5" y="116" font-family='"Liberation Sans", sans-serif' font-size="9.8" fill="#000" color="#000" textLength="32" lengthAdjust="spacingAndGlyphs">1.28070</text><text x="1650.5" y="149" font-family='"Liberation Sans", sans-serif' font-size="9.8" fill="#000" color="#000" textLength="32" lengthAdjust="spacingAndGlyphs">1.27710</text><text x="1650.5" y="182" font-family='"Liberation Sans", sans-serif' font-size="9.8" fill="#000" color="#000" textLength="32" lengthAdjust="spacingAndGlyphs">1.27360</text><text x="1650.5" y="215" font-family='"Liberation Sans", sans-serif' font-size="9.8" fill="#000" color="#000" textLength="32" lengthAdjust="spacingAndGlyphs">1.27010</text><text x="1650.5" y="248" font-family='"Liberation Sans", sans-serif' font-size="9.8" fill="#000" color="#000" textLength="32" lengthAdjust="spacingAndGlyphs">1.26650</text><text x="1650.5" y="281" font-family='"Liberation Sans", sans-serif' font-size="9.8" fill="#000" color="#000" textLength="32" lengthAdjust="spacingAndGlyphs">1.26300</text><text x="1650.5" y="314" font-family='"Liberation Sans", sans-serif' font-size="9.8" fill="#000" color="#000" textLength="32" lengthAdjust="spacingAndGlyphs">1.25950</text><text x="1650.5" y="347" font-family='"Liberation Sans", sans-serif' font-size="9.8" fill="#000" color="#000" textLength="32" lengthAdjust="spacingAndGlyphs">1.25600</text><text x="1650.5" y="380" font-family='"Liberation Sans", sans-serif' font-size="9.8" fill="#000" color="#000" textLength="32" lengthAdjust="spacingAndGlyphs">1.25240</text><text x="1650.5" y="413" font-family='"Liberation Sans", sans-serif' font-size="9.8" fill="#000" color="#000" textLength="32" lengthAdjust="spacingAndGlyphs">1.24890</text><text x="1650.5" y="446" font-family='"Liberation Sans", sans-serif' font-size="9.8" fill="#000" color="#000" textLength="32" lengthAdjust="spacingAndGlyphs">1.24540</text><text x="1650.5" y="479" font-family='"Liberation Sans", sans-serif' font-size="9.8" fill="#000" color="#000" textLength="32" lengthAdjust="spacingAndGlyphs">1.24180</text><text x="1650.5" y="512" font-family='"Liberation Sans", sans-serif' font-size="9.8" fill="#000" color="#000" textLength="32" lengthAdjust="spacingAndGlyphs">1.23830</text><text x="1650.5" y="545" font-family='"Liberation Sans", sans-serif' font-size="9.8" fill="#000" color="#000" textLength="32" lengthAdjust="spacingAndGlyphs">1.23480</text><text x="1650.5" y="578" font-family='"Liberation Sans", sans-serif' font-size="9.8" fill="#000" color="#000" textLength="32" lengthAdjust="spacingAndGlyphs">1.23130</text><rect x="1646" y="27" width="41" height="11" fill="#ff0000"/><text x="1650.5" y="36" font-family='"Liberation Sans", sans-serif' font-size="9.8" fill="#fff" color="#fff" textLength="32" lengthAdjust="spacingAndGlyphs">1.28906</text><rect x="1646" y="53" width="41" height="11" fill="#ff0000"/><text x="1650.5" y="62" font-family='"Liberation Sans", sans-serif' font-size="9.8" fill="#fff" color="#fff" textLength="32" lengthAdjust="spacingAndGlyphs">1.28632</text><rect x="1646" y="83" width="41" height="11" fill="#000000"/><text x="1650.5" y="92" font-family='"Liberation Sans", sans-serif' font-size="9.8" fill="#fff" color="#fff" textLength="32" lengthAdjust="spacingAndGlyphs">1.28327</text><rect x="1646" y="99" width="41" height="11" fill="#32cd32"/><text x="1650.5" y="108" font-family='"Liberation Sans", sans-serif' font-size="9.8" fill="#fff" color="#fff" textLength="32" lengthAdjust="spacingAndGlyphs">1.28142</text><rect x="1646" y="128" width="41" height="11" fill="#0000ff"/><text x="1650.5" y="137" font-family='"Liberation Sans", sans-serif' font-size="9.8" fill="#fff" color="#fff" textLength="32" lengthAdjust="spacingAndGlyphs">1.27828</text><rect x="1646" y="155" width="41" height="11" fill="#0000ff"/><text x="1650.5" y="164" font-family='"Liberation Sans", sans-serif' font-size="9.8" fill="#fff" color="#fff" textLength="32" lengthAdjust="spacingAndGlyphs">1.27544</text><g clip-path="url(#cd)"><rect x="4" y="668" width="3" height="15" fill="#00ff00"/><rect x="20" y="668" width="3" height="7" fill="#00ff00"/><rect x="36" y="668" width="3" height="3" fill="#00ff00"/><rect x="52" y="666" width="3" height="2" fill="#00ff00"/><rect x="68" y="663" width="3" height="5" fill="#00ff00"/><rect x="84" y="662" width="3" height="6" fill="#00ff00"/><rect x="100" y="665" width="3" height="3" fill="#00ff00"/><rect x="116" y="667" width="3" height="1" fill="#00ff00"/><rect x="132" y="665" width="3" height="3" fill="#00ff00"/><rect x="148" y="660" width="3" height="8" fill="#00ff00"/><rect x="164" y="655" width="3" height="13" fill="#00ff00"/><rect x="180" y="653" width="3" height="15" fill="#00ff00"/><rect x="196" y="653" width="3" height="15" fill="#00ff00"/><rect x="212" y="648" width="3" height="20" fill="#00ff00"/><rect x="228" y="638" width="3" height="30" fill="#00ff00"/><rect x="244" y="631" width="3" height="37" fill="#00ff00"/><rect x="260" y="626" width="3" height="42" fill="#00ff00"/><rect x="276" y="622" width="3" height="46" fill="#00ff00"/><rect x="292" y="620" width="3" height="48" fill="#00ff00"/><rect x="308" y="620" width="3" height="48" fill="#00ff00"/><rect x="324" y="625" width="3" height="43" fill="#00ff00"/><rect x="340" y="631" width="3" height="37" fill="#00ff00"/><rect x="356" y="639" width="3" height="29" fill="#00ff00"/><rect x="372" y="644" width="3" height="24" fill="#00ff00"/><rect x="388" y="652" width="3" height="16" fill="#00ff00"/><rect x="404" y="660" width="3" height="8" fill="#00ff00"/><rect x="420" y="662" width="3" height="6" fill="#00ff00"/><rect x="436" y="663" width="3" height="5" fill="#00ff00"/><rect x="452" y="665" width="3" height="3" fill="#00ff00"/><rect x="468" y="665" width="3" height="3" fill="#00ff00"/><rect x="484" y="666" width="3" height="2" fill="#00ff00"/><rect x="500" y="668" width="3" height="3" fill="#00ff00"/><rect x="516" y="668" width="3" height="4" fill="#00ff00"/><rect x="532" y="668" width="3" height="4" fill="#00ff00"/><rect x="548" y="668" width="3" height="4" fill="#00ff00"/><rect x="564" y="668" width="3" height="4" fill="#00ff00"/><rect x="580" y="668" width="3" height="6" fill="#00ff00"/><rect x="596" y="668" width="3" height="1" fill="#00ff00"/><rect x="612" y="667" width="3" height="1" fill="#00ff00"/><rect x="628" y="668" width="3" height="1" fill="#00ff00"/><rect x="644" y="667" width="3" height="1" fill="#00ff00"/><rect x="660" y="666" width="3" height="2" fill="#00ff00"/><rect x="676" y="664" width="3" height="4" fill="#00ff00"/><rect x="692" y="662" width="3" height="6" fill="#00ff00"/><rect x="708" y="653" width="3" height="15" fill="#00ff00"/><rect x="724" y="645" width="3" height="23" fill="#00ff00"/><rect x="740" y="639" width="3" height="29" fill="#00ff00"/><rect x="756" y="635" width="3" height="33" fill="#00ff00"/><rect x="772" y="633" width="3" height="35" fill="#00ff00"/><rect x="788" y="630" width="3" height="38" fill="#00ff00"/><rect x="804" y="627" width="3" height="41" fill="#00ff00"/><rect x="820" y="625" width="3" height="43" fill="#00ff00"/><rect x="836" y="624" width="3" height="44" fill="#00ff00"/><rect x="852" y="624" width="3" height="44" fill="#00ff00"/><rect x="868" y="623" width="3" height="45" fill="#00ff00"/><rect x="884" y="625" width="3" height="43" fill="#00ff00"/><rect x="900" y="634" width="3" height="34" fill="#00ff00"/><rect x="916" y="640" width="3" height="28" fill="#00ff00"/><rect x="932" y="644" width="3" height="24" fill="#00ff00"/><rect x="948" y="646" width="3" height="22" fill="#00ff00"/><rect x="964" y="645" width="3" height="23" fill="#00ff00"/><rect x="980" y="644" width="3" height="24" fill="#00ff00"/><rect x="996" y="639" width="3" height="29" fill="#00ff00"/><rect x="1012" y="636" width="3" height="32" fill="#00ff00"/><rect x="1028" y="635" width="3" height="33" fill="#00ff00"/><rect x="1044" y="633" width="3" height="35" fill="#00ff00"/><rect x="1060" y="631" width="3" height="37" fill="#00ff00"/><rect x="1076" y="628" width="3" height="40" fill="#00ff00"/><rect x="1092" y="621" width="3" height="47" fill="#00ff00"/><rect x="1108" y="620" width="3" height="48" fill="#00ff00"/><rect x="1124" y="618" width="3" height="50" fill="#00ff00"/><rect x="1140" y="620" width="3" height="48" fill="#00ff00"/><rect x="1156" y="621" width="3" height="47" fill="#00ff00"/><rect x="1172" y="623" width="3" height="45" fill="#00ff00"/><rect x="1188" y="615" width="3" height="53" fill="#00ff00"/><rect x="1204" y="607" width="3" height="61" fill="#00ff00"/><rect x="1220" y="601" width="3" height="67" fill="#00ff00"/><rect x="1236" y="597" width="3" height="71" fill="#00ff00"/><rect x="1252" y="595" width="3" height="73" fill="#00ff00"/><rect x="1268" y="590" width="3" height="78" fill="#00ff00"/><rect x="1284" y="588" width="3" height="80" fill="#00ff00"/><rect x="1300" y="586" width="3" height="82" fill="#00ff00"/><polyline points="4,689.0 5,688.0 21,686.5 37,684.0 53,681.0 69,678.4 85,675.2 101,672.3 117,670.2 133,668.0 149,666.2 165,664.5 181,662.4 197,660.3 213,658.9 229,656.2 245,652.6 261,648.6 277,643.6 293,638.4 309,635.5 325,631.3 341,628.9 357,628.4 373,628.9 389,631.0 405,634.8 421,639.0 437,644.0 453,648.3 469,652.8 485,655.4 501,661.0 517,663.5 533,666.5 549,667.5 565,668.7 581,669.7 597,669.7 613,669.7 629,669.7 645,669.7 661,669.7 677,668.6 693,667.6 709,665.6 725,662.5 741,659.4 757,655.4 773,652.6 789,647.2 805,643.3 821,639.8 837,634.4 853,631.0 869,629.1 885,627.0 901,627.3 917,628.6 933,630.6 949,631.6 965,634.1 981,636.0 997,638.4 1013,639.5 1029,639.8 1045,639.8 1061,639.0 1077,637.2 1093,635.2 1109,632.4 1125,629.1 1141,627.0 1157,625.4 1173,624.3 1189,622.3 1205,619.3 1221,616.3 1237,614.5 1253,611.5 1269,608.3 1285,604.4 1301,600.8" fill="none" stroke="#ff0000" stroke-width="2.2"/></g><rect x="4" y="579" width="1641" height="1" fill="#000"/><rect x="4" y="579" width="1" height="116" fill="#000"/><rect x="4" y="694" width="1641" height="1" fill="#000"/><rect x="1644" y="579" width="1" height="116" fill="#000"/><rect x="1645" y="581" width="2" height="1" fill="#000"/><rect x="1645" y="668" width="2" height="1" fill="#000"/><rect x="1645" y="693" width="2" height="1" fill="#000"/><text x="9.0" y="592" font-family='"Liberation Sans", sans-serif' font-size="9.8" fill="#000" color="#000" textLength="65.6" lengthAdjust="spacingAndGlyphs">MACD(12,26,9)</text><text x="77.6" y="592" font-family='"Liberation Sans", sans-serif' font-size="9.8" fill="#000" color="#000" textLength="38" lengthAdjust="spacingAndGlyphs">0.006961</text><text x="118.8" y="592" font-family='"Liberation Sans", sans-serif' font-size="9.8" fill="#000" color="#000" textLength="38.3" lengthAdjust="spacingAndGlyphs">0.005740</text><text x="1648" y="590" font-family='"Liberation Sans", sans-serif' font-size="9.8" fill="#000" color="#000" textLength="38.2" lengthAdjust="spacingAndGlyphs">0.007393</text><text x="1647.8" y="672" font-family='"Liberation Sans", sans-serif' font-size="9.8" fill="#000" color="#000" textLength="18.6" lengthAdjust="spacingAndGlyphs">0.00</text><text x="1647.8" y="691" font-family='"Liberation Sans", sans-serif' font-size="9.8" fill="#000" color="#000" textLength="41.4" lengthAdjust="spacingAndGlyphs">-0.002106</text><g clip-path="url(#cr)"><polyline points="5,759.6 21,740.9 37,749.6 53,748.2 69,748.0 85,753.9 101,760.7 117,760.7 133,755.3 149,744.7 165,744.0 181,745.7 197,752.8 213,741.8 229,734.0 245,734.1 261,735.1 277,735.1 293,737.4 309,738.8 325,753.7 341,756.1 357,759.6 373,758.7 389,766.7 405,767.4 421,758.2 437,758.0 453,758.0 469,756.6 485,758.2 501,763.6 517,761.1 533,759.4 549,758.9 565,758.9 581,761.8 597,748.6 613,754.7 629,758.0 645,755.1 661,754.3 677,752.3 693,750.7 709,736.0 725,734.9 741,734.9 757,737.7 773,737.7 789,735.3 805,733.7 821,733.7 837,733.7 853,736.0 869,733.7 885,743.4 901,763.0 917,757.2 933,756.8 949,750.5 965,745.9 981,745.9 997,739.1 1013,739.1 1029,740.1 1045,738.4 1061,737.7 1077,733.9 1093,727.1 1109,737.7 1125,737.0 1141,744.1 1157,743.0 1173,745.0 1189,729.9 1205,728.8 1221,727.8 1237,729.7 1253,729.7 1269,726.2 1285,727.8 1301,726.9" fill="none" stroke="#1e90ff" stroke-width="2.2" stroke-linejoin="round"/><line x1="6" y1="721.5" x2="1644" y2="721.5" stroke="#000" stroke-width="1" stroke-dasharray="3,3"/><line x1="6" y1="757.5" x2="1644" y2="757.5" stroke="#000" stroke-width="1" stroke-dasharray="3,3"/><line x1="6" y1="799.5" x2="1644" y2="799.5" stroke="#000" stroke-width="1" stroke-dasharray="3,3"/></g><rect x="4" y="696" width="1641" height="1" fill="#000"/><rect x="4" y="696" width="1" height="122" fill="#000"/><rect x="4" y="817" width="1641" height="1" fill="#000"/><rect x="1644" y="696" width="1" height="122" fill="#000"/><rect x="1645" y="698" width="2" height="1" fill="#000"/><rect x="1645" y="816" width="2" height="1" fill="#000"/><text x="9.2" y="709" font-family='"Liberation Sans", sans-serif' font-size="9.8" fill="#000" color="#000" textLength="31.3" lengthAdjust="spacingAndGlyphs">RSI(14)</text><text x="43.9" y="709" font-family='"Liberation Sans", sans-serif' font-size="9.8" fill="#000" color="#000" textLength="33.3" lengthAdjust="spacingAndGlyphs">75.7248</text><text x="1648.3" y="707" font-family='"Liberation Sans", sans-serif' font-size="9.8" fill="#000" color="#000" textLength="14.8" lengthAdjust="spacingAndGlyphs">100</text><text x="1646.8" y="725" font-family='"Liberation Sans", sans-serif' font-size="9.8" fill="#000" color="#000" textLength="9.8" lengthAdjust="spacingAndGlyphs">80</text><text x="1646.8" y="761" font-family='"Liberation Sans", sans-serif' font-size="9.8" fill="#000" color="#000" textLength="9.8" lengthAdjust="spacingAndGlyphs">50</text><text x="1646.8" y="803" font-family='"Liberation Sans", sans-serif' font-size="9.8" fill="#000" color="#000" textLength="9.8" lengthAdjust="spacingAndGlyphs">15</text><text x="1647.8" y="814" font-family='"Liberation Sans", sans-serif' font-size="9.8" fill="#000" color="#000" textLength="5.4" lengthAdjust="spacingAndGlyphs">0</text><rect x="5" y="818" width="1" height="3" fill="#000"/><text x="4" y="830" font-family='"Liberation Sans", sans-serif' font-size="9.8" fill="#000" color="#000" textLength="55.8" lengthAdjust="spacingAndGlyphs">30 May 2023</text><rect x="69" y="818" width="1" height="3" fill="#000"/><text x="68" y="830" font-family='"Liberation Sans", sans-serif' font-size="9.8" fill="#000" color="#000" textLength="58.6" lengthAdjust="spacingAndGlyphs">30 May 20:00</text><rect x="133" y="818" width="1" height="3" fill="#000"/><text x="132" y="830" font-family='"Liberation Sans", sans-serif' font-size="9.8" fill="#000" color="#000" textLength="58.6" lengthAdjust="spacingAndGlyphs">31 May 12:00</text><rect x="197" y="818" width="1" height="3" fill="#000"/><text x="196" y="830" font-family='"Liberation Sans", sans-serif' font-size="9.8" fill="#000" color="#000" textLength="48.2" lengthAdjust="spacingAndGlyphs">1 Jun 04:00</text><rect x="261" y="818" width="1" height="3" fill="#000"/><text x="260" y="830" font-family='"Liberation Sans", sans-serif' font-size="9.8" fill="#000" color="#000" textLength="48.2" lengthAdjust="spacingAndGlyphs">1 Jun 20:00</text><rect x="325" y="818" width="1" height="3" fill="#000"/><text x="324" y="830" font-family='"Liberation Sans", sans-serif' font-size="9.8" fill="#000" color="#000" textLength="48.2" lengthAdjust="spacingAndGlyphs">2 Jun 12:00</text><rect x="389" y="818" width="1" height="3" fill="#000"/><text x="388" y="830" font-family='"Liberation Sans", sans-serif' font-size="9.8" fill="#000" color="#000" textLength="48.2" lengthAdjust="spacingAndGlyphs">5 Jun 04:00</text><rect x="453" y="818" width="1" height="3" fill="#000"/><text x="452" y="830" font-family='"Liberation Sans", sans-serif' font-size="9.8" fill="#000" color="#000" textLength="48.2" lengthAdjust="spacingAndGlyphs">5 Jun 20:00</text><rect x="517" y="818" width="1" height="3" fill="#000"/><text x="516" y="830" font-family='"Liberation Sans", sans-serif' font-size="9.8" fill="#000" color="#000" textLength="48.2" lengthAdjust="spacingAndGlyphs">6 Jun 12:00</text><rect x="581" y="818" width="1" height="3" fill="#000"/><text x="580" y="830" font-family='"Liberation Sans", sans-serif' font-size="9.8" fill="#000" color="#000" textLength="48.2" lengthAdjust="spacingAndGlyphs">7 Jun 04:00</text><rect x="645" y="818" width="1" height="3" fill="#000"/><text x="644" y="830" font-family='"Liberation Sans", sans-serif' font-size="9.8" fill="#000" color="#000" textLength="48.2" lengthAdjust="spacingAndGlyphs">7 Jun 20:00</text><rect x="709" y="818" width="1" height="3" fill="#000"/><text x="708" y="830" font-family='"Liberation Sans", sans-serif' font-size="9.8" fill="#000" color="#000" textLength="48.2" lengthAdjust="spacingAndGlyphs">8 Jun 12:00</text><rect x="773" y="818" width="1" height="3" fill="#000"/><text x="772" y="830" font-family='"Liberation Sans", sans-serif' font-size="9.8" fill="#000" color="#000" textLength="48.2" lengthAdjust="spacingAndGlyphs">9 Jun 04:00</text><rect x="837" y="818" width="1" height="3" fill="#000"/><text x="836" y="830" font-family='"Liberation Sans", sans-serif' font-size="9.8" fill="#000" color="#000" textLength="53.6" lengthAdjust="spacingAndGlyphs">11 Jun 23:00</text><rect x="901" y="818" width="1" height="3" fill="#000"/><text x="900" y="830" font-family='"Liberation Sans", sans-serif' font-size="9.8" fill="#000" color="#000" textLength="53.6" lengthAdjust="spacingAndGlyphs">12 Jun 12:00</text><rect x="965" y="818" width="1" height="3" fill="#000"/><text x="964" y="830" font-family='"Liberation Sans", sans-serif' font-size="9.8" fill="#000" color="#000" textLength="53.6" lengthAdjust="spacingAndGlyphs">13 Jun 04:00</text><rect x="1029" y="818" width="1" height="3" fill="#000"/><text x="1028" y="830" font-family='"Liberation Sans", sans-serif' font-size="9.8" fill="#000" color="#000" textLength="53.6" lengthAdjust="spacingAndGlyphs">13 Jun 20:00</text><rect x="1093" y="818" width="1" height="3" fill="#000"/><text x="1092" y="830" font-family='"Liberation Sans", sans-serif' font-size="9.8" fill="#000" color="#000" textLength="53.6" lengthAdjust="spacingAndGlyphs">14 Jun 12:00</text><rect x="1157" y="818" width="1" height="3" fill="#000"/><text x="1156" y="830" font-family='"Liberation Sans", sans-serif' font-size="9.8" fill="#000" color="#000" textLength="53.6" lengthAdjust="spacingAndGlyphs">15 Jun 04:00</text><rect x="1221" y="818" width="1" height="3" fill="#000"/><text x="1220" y="830" font-family='"Liberation Sans", sans-serif' font-size="9.8" fill="#000" color="#000" textLength="53.6" lengthAdjust="spacingAndGlyphs">15 Jun 20:00</text><rect x="1285" y="818" width="1" height="3" fill="#000"/><text x="1284" y="830" font-family='"Liberation Sans", sans-serif' font-size="9.8" fill="#000" color="#000" textLength="53.6" lengthAdjust="spacingAndGlyphs">16 Jun 12:00</text></svg></body></html>
